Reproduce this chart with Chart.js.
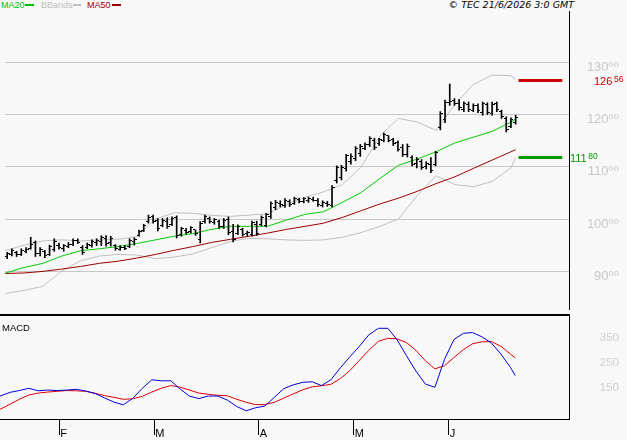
<!DOCTYPE html>
<html><head><meta charset="utf-8">
<script src="https://cdn.jsdelivr.net/npm/chart.js@4.4.1/dist/chart.umd.min.js"></script>
<style>
html,body{margin:0;padding:0;background:#f8f8f8;}
#wrap{position:relative;width:627px;height:440px;overflow:hidden;background:#f8f8f8;}
.t{position:absolute;white-space:nowrap;font-family:'Liberation Sans','DejaVu Sans',sans-serif;}
.leg{font-size:9px;line-height:9px;top:0.5px;}
.ln{position:absolute;height:2px;top:4px;}
canvas{position:absolute;left:0;}
</style></head>
<body><div id="wrap">
<span class="t leg" style="left:1px;color:#00c000">MA20</span><span class="ln" style="left:25px;width:9px;background:#00c000"></span>
<span class="t leg" style="left:41px;color:#c0c0c0">BBands</span><span class="ln" style="left:73px;width:8px;background:#c0c0c0"></span>
<span class="t leg" style="left:87px;color:#990000">MA50</span><span class="ln" style="left:112px;width:9px;background:#990000"></span>
<span class="t" style="right:53px;top:0;font-family:'DejaVu Sans',sans-serif;font-style:italic;font-size:9.5px;line-height:10px;color:#000">© TEC 21/6/2026 3:0 GMT</span>
<canvas id="price" width="627" height="314" style="top:0"></canvas>
<div style="position:absolute;left:0;top:314px;width:570px;height:2px;background:#000"></div>
<canvas id="macd" width="627" height="124" style="top:316px"></canvas>
<span class="t" style="left:2px;top:323px;font-size:9.5px;line-height:9.5px;color:#000">MACD</span>
</div>
<script>
// ---------- DATA ----------
const priceHigh = [93.6, 94.3, 93.8, 94.3, 94.5, 96.5, 95.8, 94.5, 94.0, 95.0,
  96.2, 95.4, 95.1, 95.5, 96.2, 96.2, 94.9, 95.4, 96.0, 96.2,
  96.8, 96.8, 96.7, 95.1, 94.9, 94.9, 96.2, 96.4, 97.9, 99.0,
  100.75, 100.75, 100.1, 100.1, 100.25, 100.4, 100.6, 98.4, 98.2, 98.55,
  97.9, 99.5, 100.75, 100.4, 100.1, 99.8, 100.1, 100.4, 99.0, 98.86,
  98.24, 97.7, 99.6, 99.6, 100.6, 101.1, 103.3, 103.6, 103.5, 103.9,
  103.7, 104.2, 104.0, 104.1, 104.2, 104.2, 103.9, 103.5, 103.4, 106.4,
  110.2, 110.3, 112.4, 112.5, 113.9, 114.3, 114.6, 115.8, 115.5, 115.5,
  116.5, 116.0, 115.5, 115.0, 114.3, 114.4, 112.1, 111.8, 111.4, 111.0,
  111.8, 113.0, 120.6, 122.8, 125.9, 123.1, 122.95, 122.5, 122.45, 122.1,
  122.1, 122.45, 122.3, 122.45, 122.45, 120.9, 119.6, 119.4, 119.9];
const priceLow = [92.4, 92.9, 92.8, 93.0, 93.5, 94.2, 92.8, 92.9, 92.6, 93.0,
  93.8, 94.2, 93.8, 94.5, 94.9, 95.3, 93.2, 94.3, 94.6, 94.9,
  94.9, 94.8, 94.8, 94.0, 94.0, 94.1, 94.5, 95.0, 96.7, 97.6,
  99.2, 99.2, 97.7, 98.5, 98.2, 98.7, 96.35, 96.7, 97.1, 97.3,
  96.85, 95.4, 99.2, 99.2, 99.0, 98.2, 98.2, 96.98, 95.6, 96.98,
  96.7, 96.7, 96.7, 96.85, 98.7, 98.5, 100.1, 101.8, 102.3, 102.2,
  102.4, 102.8, 103.1, 103.1, 103.2, 103.4, 102.4, 102.3, 102.4, 102.3,
  106.9, 107.5, 109.2, 110.5, 111.2, 112.0, 113.3, 113.9, 113.3, 114.1,
  114.8, 114.8, 114.1, 113.0, 112.0, 111.9, 110.2, 109.8, 109.5, 109.6,
  108.9, 110.2, 117.1, 118.5, 121.8, 121.8, 120.9, 120.6, 120.6, 120.6,
  120.4, 119.9, 120.05, 119.9, 120.6, 119.3, 116.7, 117.5, 118.2];
const priceOpen = [92.8, 93.2, 93.6, 93.2, 93.8, 94.4, 95.4, 93.4, 93.7, 93.2,
  94.2, 95.0, 94.4, 94.8, 95.2, 95.8, 94.6, 94.5, 94.9, 95.4,
  95.6, 96.2, 95.5, 94.9, 94.2, 94.5, 94.7, 95.7, 96.9, 97.8,
  99.5, 100.4, 99.8, 98.8, 99.6, 98.9, 100.2, 97.0, 97.8, 97.6,
  97.9, 96.0, 99.5, 100.1, 99.4, 99.6, 98.6, 99.9, 97.6, 97.2,
  98.0, 97.2, 97.0, 99.0, 98.9, 98.8, 100.4, 102.3, 103.0, 102.5,
  103.4, 103.0, 103.7, 103.4, 103.6, 103.8, 103.5, 102.6, 103.0, 102.5,
  107.3, 108.0, 109.6, 111.0, 111.6, 112.5, 113.6, 114.2, 115.1, 114.4,
  115.0, 116.0, 115.2, 114.6, 113.8, 112.4, 111.8, 110.6, 111.0, 110.0,
  110.4, 110.5, 117.6, 119.0, 122.3, 122.8, 122.2, 121.0, 122.0, 120.9,
  121.7, 120.5, 122.0, 120.3, 122.2, 120.6, 119.3, 117.8, 118.6];
const priceClose = [93.3, 93.9, 93.1, 94.0, 94.2, 95.2, 93.3, 94.1, 93.0, 94.7,
  95.6, 94.6, 94.9, 95.2, 95.9, 95.5, 93.6, 95.1, 95.7, 95.9,
  96.4, 95.3, 96.3, 94.3, 94.6, 94.4, 95.9, 96.1, 97.6, 98.8,
  100.3, 99.6, 98.1, 99.8, 98.6, 100.1, 96.8, 98.1, 97.5, 98.3,
  97.2, 99.2, 100.4, 99.6, 99.9, 98.5, 99.8, 97.4, 96.1, 98.5,
  97.0, 97.5, 99.3, 97.3, 100.3, 100.8, 103.0, 103.2, 102.7, 103.6,
  102.7, 103.9, 103.4, 103.9, 104.0, 103.6, 102.7, 103.1, 102.7, 106.1,
  109.8, 109.9, 112.1, 111.9, 113.5, 114.0, 114.3, 115.4, 113.8, 115.2,
  116.2, 115.1, 114.4, 113.4, 112.3, 113.9, 110.5, 111.5, 109.9, 110.7,
  109.3, 112.7, 120.2, 122.4, 122.6, 122.1, 121.3, 122.2, 121.0, 121.8,
  120.8, 122.1, 120.4, 122.0, 121.0, 119.7, 117.2, 119.0, 119.4];

// sample positions (bar index units) of the indicator lines
const lineX = [-0.46, 3.6, 7.6, 11.6, 15.6, 19.6, 23.5, 27.5, 31.5, 35.5, 39.4, 43.4, 47.4, 51.4, 55.3,
  59.3, 63.3, 67.2, 71.2, 75.2, 79.2, 83.1, 87.1, 91.1, 95.1, 99.0, 103.0, 107.0, 108.0];
const ma20 = [89.6, 90.7, 91.5, 92.9, 93.9, 94.3, 94.7, 95.3, 96.0, 96.7, 97.2, 98.0, 98.6, 98.6, 98.6,
  99.8, 100.9, 101.4, 103.2, 105.1, 107.8, 110.3, 111.5, 112.9, 114.6, 115.7, 116.8, 118.6, 119.2];
const ma50 = [89.55, 89.65, 89.95, 90.4, 90.9, 91.5, 91.9, 92.5, 93.2, 94.0, 94.7, 95.5, 96.1, 96.7, 97.3,
  98.0, 98.6, 99.2, 100.3, 101.6, 102.9, 104.0, 105.3, 106.8, 108.1, 109.7, 111.3, 112.9, 113.3];
const bbUpper = [93.9, 95.0, 95.8, 96.0, 95.8, 96.0, 96.1, 96.6, 100.0, 101.2, 101.1, 100.7, 100.5, 100.75, 101.0,
  102.7, 104.2, 105.2, 106.6, 110.0, 116.0, 119.3, 118.6, 117.0, 122.0, 125.8, 127.6, 127.5, 126.8];
const bbLower = [85.7, 86.3, 87.1, 90.0, 92.0, 92.9, 93.2, 93.1, 92.4, 92.7, 93.3, 94.5, 95.7, 96.3, 96.2,
  96.0, 95.9, 96.0, 96.5, 97.4, 98.6, 100.0, 104.5, 108.3, 106.6, 106.2, 107.2, 109.8, 111.8];

const macdX = [-0.46, 1.7, 3.6, 5.6, 7.6, 9.6, 11.6, 13.6, 15.6, 17.6, 19.6, 21.5, 23.5, 25.5, 27.5,
  29.5, 31.5, 33.5, 35.5, 37.4, 39.4, 41.4, 43.4, 45.4, 47.4, 49.4, 51.4, 53.3, 55.3, 57.3,
  59.3, 61.3, 63.3, 65.3, 67.2, 69.2, 71.2, 73.2, 75.2, 77.2, 79.2, 81.2, 83.1, 85.1, 87.1,
  89.1, 91.1, 93.1, 95.1, 97.1, 99.0, 101.0, 103.0, 105.0, 107.0, 108.0];
const macdLine = [119, 134, 141, 150, 140, 143, 141, 143, 146, 139, 129, 112, 95, 84, 110,
  150, 184, 180, 180, 148, 119, 109, 119, 119, 103, 77, 60, 72, 79, 114,
  149, 164, 174, 176, 161, 184, 232, 276, 318, 364, 390, 390, 345, 281, 219,
  167, 154, 265, 345, 370, 373, 356, 331, 287, 234, 201];
const signalLine = [66, 87, 106, 123, 131, 135, 138, 141, 140, 138, 130, 121, 114, 106, 108,
  118, 135, 150, 161, 155, 143, 131, 126, 122, 120, 106, 94, 85, 85, 94,
  111, 128, 144, 156, 160, 166, 189, 221, 262, 302, 338, 350, 348, 333, 302,
  260, 228, 240, 273, 305, 328, 336, 337, 318, 287, 272];

const priceTicks = [90, 100, 110, 120, 130];
const priceTickLabels = ['90\u2070\u2070', '100\u2070\u2070', '110\u2070\u2070', '120\u2070\u2070', '130\u2070\u2070'];
const macdTicks = [150, 250, 350];
const macdTickLabels = ['150', '250', '350'];
const monthIdx = [12, 32, 54, 74, 94];
const monthLabels = ['F', 'M', 'A', 'M', 'J'];
const levels = [126.56, 111.80];
const levelMain = ['126', '111'];
const levelFrac = ['56', '80'];
const levelColors = ['#cc0000', '#009900'];

// ---------- LAYOUT / STYLE ----------
const FAMILY = "'Liberation Sans', 'DejaVu Sans', sans-serif";
const X_MIN = -0.463, X_MAX = 119.33;
const AXIS_W = 50, PAD_R = 8;
const LEVEL_X0 = 108.6, LEVEL_X1 = 117.9;
const LEVEL_LABEL_DX = [25, 1];

function textWidth(str, font) {
  const c = document.createElement('canvas').getContext('2d');
  c.font = font; return c.measureText(str).width;
}
const priceFont = 13, macdFont = 11.5;
const priceWidest = Math.max(...priceTickLabels.map(s => textWidth(s, priceFont + 'px ' + FAMILY)));
const macdWidest = Math.max(...macdTickLabels.map(s => textWidth(s, macdFont + 'px ' + FAMILY)));

function tickImg(left) {
  const c = document.createElement('canvas'); c.width = 5; c.height = 1;
  const g = c.getContext('2d'); g.fillStyle = '#000';
  g.fillRect(left ? 0 : 3, 0, 2, 1);
  return c;
}
const openTick = tickImg(true), closeTick = tickImg(false);

const pts = (xs, ys) => xs.map((x, i) => ({x, y: ys[i]}));
const lineDs = (data, color, order, width) => ({type: 'line', data, borderColor: color, borderWidth: width || 1,
  pointRadius: 0, tension: 0, fill: false, order, borderCapStyle: 'butt'});
const fitY = s => { s.width = AXIS_W; s.paddingTop = 0; s.paddingBottom = 0; };

const levelLabelPlugin = {
  id: 'levelLabels',
  afterDatasetsDraw(chart) {
    const ys = chart.scales.y, ctx = chart.ctx, area = chart.chartArea;
    levels.forEach((lv, k) => {
      const py = ys.getPixelForValue(lv);
      ctx.save();
      ctx.fillStyle = levelColors[k];
      ctx.textBaseline = 'alphabetic';
      ctx.textAlign = 'left';
      ctx.font = '11px ' + FAMILY;
      const x = area.right + LEVEL_LABEL_DX[k];
      ctx.fillText(levelMain[k], x, py + 4.2);
      const w = ctx.measureText(levelMain[k]).width;
      ctx.font = '8.5px ' + FAMILY;
      ctx.fillText(levelFrac[k], x + w + 1.6, py + 1.8);
      ctx.restore();
    });
  }
};

// ---------- PRICE CHART ----------
new Chart(document.getElementById('price'), {
  type: 'bar',
  data: {datasets: [
    {type: 'bar', data: priceHigh.map((h, i) => ({x: i, y: [priceLow[i], h]})), backgroundColor: '#000',
      borderWidth: 0, barThickness: 1, order: 0},
    {type: 'scatter', data: pts(priceOpen.map((_, i) => i), priceOpen), pointStyle: openTick, pointRadius: 2, order: 1},
    {type: 'scatter', data: pts(priceClose.map((_, i) => i), priceClose), pointStyle: closeTick, pointRadius: 2, order: 2},
    lineDs(pts(lineX, ma20), '#00cc00', 3),
    lineDs(pts(lineX, ma50), '#990000', 4),
    lineDs(pts(lineX, bbUpper), '#c0c0c0', 5),
    lineDs(pts(lineX, bbLower), '#c0c0c0', 6),
    lineDs([{x: LEVEL_X0, y: levels[0]}, {x: LEVEL_X1, y: levels[0]}], levelColors[0], 7, 3),
    lineDs([{x: LEVEL_X0, y: levels[1]}, {x: LEVEL_X1, y: levels[1]}], levelColors[1], 8, 3)
  ]},
  options: {
    responsive: false, animation: false, events: [],
    layout: {padding: {top: 11, right: PAD_R, left: 0, bottom: 0}},
    plugins: {legend: {display: false}, tooltip: {enabled: false}},
    scales: {
      x: {type: 'linear', min: X_MIN, max: X_MAX, bounds: 'data', offset: false, display: false, grid: {offset: false}},
      y: {type: 'linear', position: 'right', min: 82.736, max: 139.906, bounds: 'data',
        afterBuildTicks: s => { s.ticks = priceTicks.map(v => ({value: v})); },
        afterFit: fitY,
        grid: {color: '#c8c8c8', lineWidth: 1, drawTicks: false},
        border: {display: true, color: '#000', width: 1},
        ticks: {color: '#c8c8c8', font: {family: FAMILY, size: priceFont}, crossAlign: 'far',
          padding: AXIS_W - priceWidest, labelOffset: 5,
          callback: v => priceTickLabels[priceTicks.indexOf(v)]}}
    }
  },
  plugins: [levelLabelPlugin]
});

// ---------- MACD CHART ----------
new Chart(document.getElementById('macd'), {
  type: 'line',
  data: {datasets: [
    lineDs(pts(macdX, macdLine), '#0000dd', 0),
    lineDs(pts(macdX, signalLine), '#dd0000', 1)
  ]},
  options: {
    responsive: false, animation: false, events: [],
    layout: {padding: {top: 0, right: PAD_R, left: 0, bottom: 0}},
    plugins: {legend: {display: false}, tooltip: {enabled: false}},
    scales: {
      x: {type: 'linear', position: 'bottom', min: X_MIN, max: X_MAX, bounds: 'data', offset: false,
        afterBuildTicks: s => { s.ticks = monthIdx.map(v => ({value: v})); },
        afterFit: s => { s.height = 21; s.paddingLeft = 0; s.paddingRight = 0; },
        grid: {drawOnChartArea: false, drawTicks: true, tickLength: 16, color: '#000', lineWidth: 1},
        border: {display: true, color: '#000', width: 1},
        ticks: {align: 'start', labelOffset: 1, padding: -8, color: '#000', autoSkip: false, maxRotation: 0,
          font: {family: FAMILY, size: 11},
          callback: v => monthLabels[monthIdx.indexOf(v)]}},
      y: {type: 'linear', position: 'right', min: 27.2, max: 439.2, bounds: 'data',
        afterBuildTicks: s => { s.ticks = macdTicks.map(v => ({value: v})); },
        afterFit: fitY,
        grid: {display: false},
        border: {display: true, color: '#000', width: 1},
        ticks: {color: '#d0d0d0', font: {family: FAMILY, size: macdFont}, crossAlign: 'far',
          padding: AXIS_W - macdWidest,
          callback: v => macdTickLabels[macdTicks.indexOf(v)]}}
    }
  }
});
</script>
</body></html>
